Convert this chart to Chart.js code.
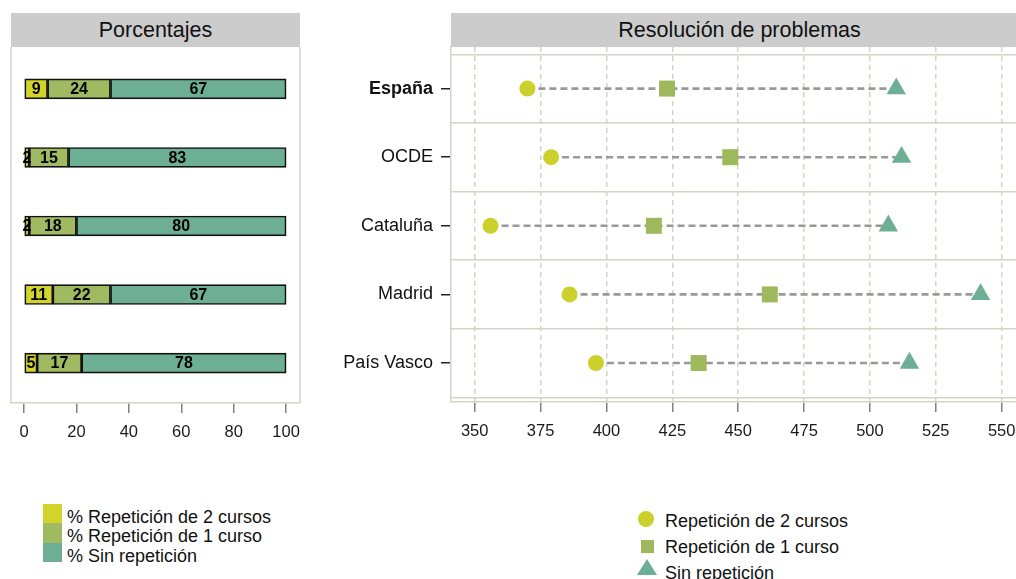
<!DOCTYPE html>
<html lang="es">
<head>
<meta charset="utf-8">
<title>Repetición de curso y resolución de problemas</title>
<script src="https://cdn.jsdelivr.net/npm/chart.js@4/dist/chart.umd.min.js"></script>
<style>
  html, body { margin: 0; padding: 0; width: 1016px; height: 579px; overflow: hidden; background: #fff; }
  body { position: relative; font-family: "Liberation Sans", Arial, sans-serif; color: #111; }
  canvas { position: absolute; top: 0; }
  .hdr { position: absolute; top: 13px; height: 34px; line-height: 35px; background: #cccccc;
         text-align: center; font-size: 21.5px; color: #111; z-index: 2; }
  .leg { position: absolute; font-size: 18px; color: #111; white-space: nowrap; }
  .sw { position: absolute; width: 19px; }
  .mk { position: absolute; }
</style>
</head>
<body>
<div class="hdr" style="left:11px;width:289px">Porcentajes</div>
<div class="hdr" style="left:451px;width:577px">Resolución de problemas</div>
<canvas id="pctChart" width="340" height="453" style="left:0"></canvas>
<canvas id="dotChart" width="780" height="452" style="left:300px"></canvas>
<div id="pctLegend"></div>
<div id="dotLegend"></div>

<script>
// rows, top to bottom
const rows = ['España', 'OCDE', 'Cataluña', 'Madrid', 'País Vasco'];

// share of students by number of repeated years (%)
const pctRep2 = [9, 2, 2, 11, 5];
const pctRep1 = [24, 15, 18, 22, 17];
const pctNone = [67, 83, 80, 67, 78];
const pctNames = ['% Repetición de 2 cursos', '% Repetición de 1 curso', '% Sin repetición'];
const pctTicks = [0, 20, 40, 60, 80, 100];

// problem solving score by group
const scoreRep2 = [370, 379, 356, 386, 396];
const scoreRep1 = [423, 447, 418, 462, 435];
const scoreNone = [510, 512, 507, 542, 515];
const scoreNames = ['Repetición de 2 cursos', 'Repetición de 1 curso', 'Sin repetición'];
const scoreTicks = [350, 375, 400, 425, 450, 475, 500, 525, 550];

const YELLOW = '#ccd02a';
const GREEN = '#9eb95c';
const TEAL = '#6daf94';
const FRAME = '#d3d3c6';
const FONT = '"Liberation Sans", Arial, sans-serif';

Chart.defaults.font.family = FONT;
Chart.defaults.color = '#111';

// left/right edges of the percentage panel
const panelFrame = {
  id: 'panelFrame',
  beforeDatasetsDraw(chart) {
    const { ctx, chartArea: a } = chart;
    ctx.save();
    ctx.strokeStyle = FRAME;
    ctx.lineWidth = 1.5;
    ctx.beginPath();
    ctx.moveTo(a.left, a.top); ctx.lineTo(a.left, a.bottom);
    ctx.moveTo(a.right, a.top); ctx.lineTo(a.right, a.bottom);
    ctx.stroke();
    ctx.restore();
  }
};

// value printed in the middle of each stacked segment
const segmentLabels = {
  id: 'segmentLabels',
  afterDatasetsDraw(chart) {
    const { ctx } = chart;
    ctx.save();
    ctx.font = 'bold 16px ' + FONT;
    ctx.fillStyle = '#000';
    ctx.textAlign = 'center';
    ctx.textBaseline = 'middle';
    chart.data.datasets.forEach((ds, i) => {
      chart.getDatasetMeta(i).data.forEach((bar, j) => {
        const { x, base, y } = bar.getProps(['x', 'base', 'y'], true);
        ctx.fillText(String(ds.data[j].x), (x + base) / 2, y + 1);
      });
    });
    ctx.restore();
  }
};

function barSet(label, values, color) {
  return {
    label,
    data: values.map((v, i) => ({ x: v, y: i })),
    backgroundColor: color,
    borderColor: '#111',
    borderWidth: 1.7,
    borderSkipped: false,
    barThickness: 20,
    stack: 'pct'
  };
}

new Chart(document.getElementById('pctChart'), {
  type: 'bar',
  data: {
    datasets: [
      barSet(pctNames[0], pctRep2, '#d2d42c'),
      barSet(pctNames[1], pctRep1, '#a0ba62'),
      barSet(pctNames[2], pctNone, TEAL)
    ]
  },
  options: {
    indexAxis: 'y',
    responsive: false,
    animation: false,
    layout: { padding: { left: 11, right: 40, top: 47, bottom: 0 } },
    plugins: { legend: { display: false }, tooltip: { enabled: false } },
    scales: {
      x: {
        type: 'linear',
        stacked: true,
        min: -4.96,
        max: 105.3,
        afterBuildTicks: s => { s.ticks = pctTicks.map(v => ({ value: v })); },
        afterFit: s => { s.height = 50; },
        ticks: { font: { size: 16.5 }, color: '#1a1a1a', padding: 10, maxRotation: 0 },
        grid: { drawOnChartArea: false, color: '#808080', lineWidth: 1.5, tickLength: 10 },
        border: { color: FRAME, width: 1.5 }
      },
      y: {
        type: 'linear',
        display: false,
        offset: false,
        reverse: true,
        min: -0.612,
        max: 4.583
      }
    }
  },
  plugins: [panelFrame, segmentLabels]
});

const Y_MIN = -0.606;
const Y_MAX = 4.568;

function markerSet(label, values, style, radius, color) {
  return {
    label,
    type: 'scatter',
    data: values.map((v, i) => ({ x: v, y: i })),
    pointStyle: style,
    pointRadius: radius,
    pointBackgroundColor: color,
    pointBorderWidth: 0,
    xAxisID: 'x',
    yAxisID: 'y',
    order: 1
  };
}

// dashed connector across each row, from the lowest to the highest score
const connectors = rows.map((r, i) => {
  const vals = [scoreRep2[i], scoreRep1[i], scoreNone[i]];
  return {
    label: r,
    type: 'line',
    data: [{ x: Math.min(...vals), y: i }, { x: Math.max(...vals), y: i }],
    borderColor: '#999999',
    borderWidth: 2.6,
    borderDash: [7, 4],
    pointRadius: 0,
    fill: false,
    xAxisID: 'x',
    yAxisID: 'y',
    order: 2
  };
});

new Chart(document.getElementById('dotChart'), {
  type: 'scatter',
  data: {
    datasets: [
      markerSet(scoreNames[0], scoreRep2, 'circle', 8, YELLOW),
      markerSet(scoreNames[1], scoreRep1, 'rect', 11.3, GREEN),
      markerSet(scoreNames[2], scoreNone, 'triangle', 11.2, TEAL),
      ...connectors
    ]
  },
  options: {
    responsive: false,
    animation: false,
    layout: { padding: { left: 0, right: 52, top: 47, bottom: 0 } },
    plugins: { legend: { display: false }, tooltip: { enabled: false } },
    scales: {
      x: {
        type: 'linear',
        position: 'bottom',
        min: 341,
        max: 560,
        afterBuildTicks: s => { s.ticks = scoreTicks.map(v => ({ value: v })); },
        afterFit: s => { s.height = 50; },
        ticks: { font: { size: 16.5 }, color: '#1a1a1a', padding: 10, maxRotation: 0 },
        grid: { drawOnChartArea: false, color: '#808080', lineWidth: 1.5, tickLength: 10 },
        border: { color: FRAME, width: 1.5 }
      },
      // dashed vertical guides
      xg: {
        type: 'linear',
        position: 'top',
        min: 341,
        max: 560,
        afterBuildTicks: s => { s.ticks = scoreTicks.map(v => ({ value: v })); },
        afterFit: s => { s.height = 0; },
        ticks: { display: false },
        grid: { drawTicks: false, color: FRAME, lineWidth: 1.5 },
        border: { display: false, dash: [5, 4] }
      },
      y: {
        type: 'linear',
        position: 'left',
        reverse: true,
        min: Y_MIN,
        max: Y_MAX,
        afterBuildTicks: s => { s.ticks = rows.map((r, i) => ({ value: i })); },
        afterFit: s => { s.width = 151; },
        ticks: {
          callback: v => rows[v],
          color: '#111',
          padding: 8,
          font: c => ({ family: FONT, size: 18, weight: c.index === 0 ? 'bold' : 'normal' })
        },
        grid: { drawOnChartArea: false, color: '#222', lineWidth: 1.5, tickLength: 10 },
        border: { color: FRAME, width: 1.5 }
      },
      // solid separators between rows
      ys: {
        type: 'linear',
        position: 'right',
        reverse: true,
        min: Y_MIN,
        max: Y_MAX,
        afterBuildTicks: s => { s.ticks = [-0.5, 0.5, 1.5, 2.5, 3.5, 4.5].map(v => ({ value: v })); },
        afterFit: s => { s.width = 0; },
        ticks: { display: false },
        grid: { drawTicks: false, color: FRAME, lineWidth: 1.5 },
        border: { display: false }
      }
    }
  }
});

// legend under the percentage panel
const pctColors = ['#d2d42c', '#a0ba62', TEAL];
const pctLegend = document.getElementById('pctLegend');
pctNames.forEach((name, i) => {
  const top = 504 + i * 19.3;
  const sw = document.createElement('div');
  sw.className = 'sw';
  sw.style.cssText = `left:43px;top:${top}px;height:${i === 2 ? 19 : 20}px;background:${pctColors[i]}`;
  pctLegend.appendChild(sw);
  const t = document.createElement('div');
  t.className = 'leg';
  t.style.cssText = `left:67px;top:${top + 3}px;line-height:20px`;
  t.textContent = name;
  pctLegend.appendChild(t);
});

// legend under the score panel
const dotLegend = document.getElementById('dotLegend');
const markerCss = [
  'left:638px;top:511px;width:16px;height:16px;border-radius:50%;background:' + YELLOW,
  'left:641px;top:540px;width:13px;height:13px;background:' + GREEN,
  'left:637px;top:559px;width:0;height:0;border-left:10px solid transparent;border-right:10px solid transparent;border-bottom:16px solid ' + TEAL
];
scoreNames.forEach((name, i) => {
  const m = document.createElement('div');
  m.className = 'mk';
  m.style.cssText = markerCss[i];
  dotLegend.appendChild(m);
  const t = document.createElement('div');
  t.className = 'leg';
  t.style.cssText = `left:665px;top:${511 + i * 26}px;line-height:20px`;
  t.textContent = name;
  dotLegend.appendChild(t);
});
</script>
</body>
</html>
